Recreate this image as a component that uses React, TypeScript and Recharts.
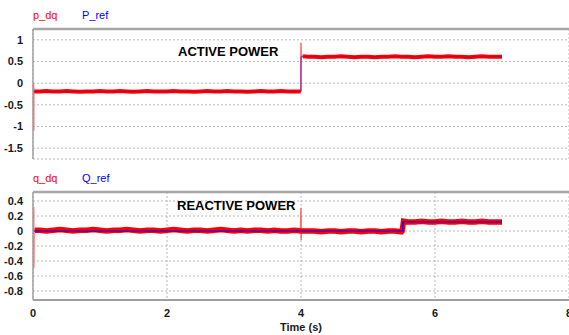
import React from 'react';
import { LineChart, Line, XAxis, YAxis, CartesianGrid, ReferenceLine } from 'recharts';

// time axis ticks (s)
const timeTicks = [0, 2, 4, 6, 8];

// active power: noisy band (null splits the two segments)
const pTicks = [-1.5, -1, -0.5, 0, 0.5, 1];
const pTime = [
  0.02, 0.1, 0.2, 0.3, 0.4, 0.5, 0.6, 0.7, 0.8, 0.9, 1.0,
  1.1, 1.2, 1.3, 1.4, 1.5, 1.6, 1.7, 1.8, 1.9, 2.0,
  2.1, 2.2, 2.3, 2.4, 2.5, 2.6, 2.7, 2.8, 2.9, 3.0,
  3.1, 3.2, 3.3, 3.4, 3.5, 3.6, 3.7, 3.8, 3.9, 3.995,
  4.01,
  4.03, 4.1, 4.2, 4.3, 4.4, 4.5, 4.6, 4.7, 4.8, 4.9, 5.0,
  5.1, 5.2, 5.3, 5.4, 5.5, 5.6, 5.7, 5.8, 5.9, 6.0,
  6.1, 6.2, 6.3, 6.4, 6.5, 6.6, 6.7, 6.8, 6.9, 7.0,
];
const pDq = [
  -0.19, -0.19, -0.18, -0.19, -0.19, -0.18, -0.19, -0.2, -0.19, -0.19, -0.18,
  -0.19, -0.19, -0.18, -0.19, -0.2, -0.19, -0.18, -0.19, -0.19, -0.19,
  -0.18, -0.19, -0.19, -0.2, -0.19, -0.18, -0.19, -0.19, -0.18, -0.19,
  -0.19, -0.2, -0.19, -0.18, -0.19, -0.19, -0.18, -0.19, -0.19, -0.19,
  null,
  0.62, 0.61, 0.61, 0.6, 0.61, 0.61, 0.62, 0.61, 0.6, 0.61, 0.61,
  0.6, 0.61, 0.61, 0.62, 0.61, 0.61, 0.6, 0.61, 0.62, 0.61,
  0.61, 0.62, 0.61, 0.61, 0.6, 0.61, 0.62, 0.61, 0.61, 0.61,
];
// transients at start-up and at the 4 s step
const pSpikeTime = [0.008, 0.01, 0.012, 0.016, 0.025, null, 3.995, 4.0, 4.004, 4.01, 4.03];
const pSpike = [0, -1.1, -0.1, -0.22, -0.19, null, -0.19, 0.94, 0.58, 0.65, 0.62];
const pRefTime = [0, 4, 4, 7];
const pRef = [-0.19, -0.19, 0.61, 0.61];

// reactive power
const qTicks = [-0.8, -0.6, -0.4, -0.2, 0, 0.2, 0.4];
const qTime = [
  0.03, 0.1, 0.2, 0.3, 0.4, 0.5, 0.6, 0.7, 0.8, 0.9, 1.0,
  1.1, 1.2, 1.3, 1.4, 1.5, 1.6, 1.7, 1.8, 1.9, 2.0,
  2.1, 2.2, 2.3, 2.4, 2.5, 2.6, 2.7, 2.8, 2.9, 3.0,
  3.1, 3.2, 3.3, 3.4, 3.5, 3.6, 3.7, 3.8, 3.9, 4.0,
  4.1, 4.2, 4.3, 4.4, 4.5, 4.6, 4.7, 4.8, 4.9, 5.0,
  5.1, 5.2, 5.3, 5.4, 5.5, 5.51,
  5.53, 5.6, 5.7, 5.8, 5.9, 6.0,
  6.1, 6.2, 6.3, 6.4, 6.5, 6.6, 6.7, 6.8, 6.9, 7.0,
];
const qDq = [
  0.01, 0.01, 0.0, 0.01, 0.02, 0.01, 0.0, 0.01, 0.01, 0.02, 0.01,
  0.0, 0.01, 0.01, 0.02, 0.01, 0.0, 0.01, 0.01, 0.0, 0.01,
  0.02, 0.01, 0.0, 0.01, 0.01, 0.0, 0.01, 0.02, 0.01, 0.0,
  0.01, 0.0, 0.01, 0.01, 0.0, 0.01, 0.0, 0.0, 0.01, 0.0,
  0.0, 0.0, -0.01, 0.0, 0.0, -0.01, 0.0, 0.0, -0.01, 0.0,
  0.0, -0.01, 0.0, 0.0, -0.01, 0.0,
  0.13, 0.12, 0.12, 0.13, 0.12, 0.12,
  0.13, 0.12, 0.12, 0.13, 0.12, 0.12, 0.13, 0.12, 0.12, 0.12,
];
const qSpikeTime = [0.008, 0.01, 0.012, 0.015, 0.03, null, 3.99, 4.0, 4.003, 4.006, 4.01, null, 5.51, 5.52, 5.53];
const qSpike = [0, 0.32, -0.49, 0.04, 0.01, null, 0.0, 0.31, -0.12, 0.05, 0.0, null, 0.0, 0.12, 0.13];
const qRefTime = [0, 5.52, 5.52, 7];
const qRef = [0, 0, 0.12, 0.12];

const toRows = (t: (number | null)[], v: (number | null)[]) =>
  t.map((x, i) => ({ t: x, v: v[i] })).filter((r) => r.t !== null || r.v === null);

const pDqData = toRows(pTime, pDq);
const pSpikeData = toRows(pSpikeTime, pSpike);
const pRefData = toRows(pRefTime, pRef);
const qDqData = toRows(qTime, qDq);
const qSpikeData = toRows(qSpikeTime, qSpike);
const qRefData = toRows(qRefTime, qRef);

const FONT = '"Liberation Sans", Arial, sans-serif';
const tickStyle = { fill: '#1a1a1a', fontSize: 11, fontWeight: 700, fontFamily: FONT };

const label = (text: string, color: string, left: number, top: number) => (
  <div
    style={{
      position: 'absolute',
      left,
      top,
      color,
      fontFamily: FONT,
      fontSize: 11,
      lineHeight: '12px',
    }}
  >
    {text}
  </div>
);

const title = (text: string, left: number, top: number) => (
  <div
    style={{
      position: 'absolute',
      left,
      top,
      fontFamily: FONT,
      fontSize: 13,
      fontWeight: 700,
      lineHeight: '16px',
      color: '#000',
      whiteSpace: 'nowrap',
    }}
  >
    {text}
  </div>
);

export default function App() {
  return (
    <div style={{ position: 'absolute', left: 0, top: 0, width: 569, height: 335, background: '#fff', overflow: 'hidden' }}>
      <div style={{ position: 'absolute', left: 0, top: 0 }}>
        <LineChart width={569} height={160} margin={{ top: 29, right: 0, bottom: 1, left: 0 }}>
          <CartesianGrid stroke="#b8b8b8" strokeDasharray="2 2" />
          <XAxis
            type="number"
            dataKey="t"
            domain={[0, 8]}
            ticks={timeTicks}
            tick={false}
            tickLine={false}
            height={0}
            axisLine={{ stroke: '#a0a0a0', strokeWidth: 2 }}
          />
          <YAxis
            type="number"
            domain={[-1.75, 1.25]}
            ticks={pTicks}
            interval={0}
            width={33}
            tickLine={false}
            tickSize={0}
            tickMargin={10}
            tick={tickStyle}
            axisLine={{ stroke: '#a0a0a0', strokeWidth: 1.5 }}
          />
          <ReferenceLine y={1.25} stroke="#a8a8a8" strokeWidth={2.5} />
          <Line data={pSpikeData} dataKey="v" stroke="#ff6a6a" strokeWidth={1.5} dot={false} isAnimationActive={false} />
          <Line data={pRefData} dataKey="v" stroke="#7a6cff" strokeWidth={1} dot={false} isAnimationActive={false} />
          <Line data={pDqData} dataKey="v" stroke="#ff0000" strokeWidth={4} dot={false} isAnimationActive={false} />
          <Line data={pRefData} dataKey="v" stroke="#a0005a" strokeWidth={1} strokeOpacity={0.6} dot={false} isAnimationActive={false} />
        </LineChart>
      </div>
      <div style={{ position: 'absolute', left: 0, top: 160 }}>
        <LineChart width={569} height={175} margin={{ top: 32, right: 0, bottom: 0, left: 0 }}>
          <CartesianGrid stroke="#b8b8b8" strokeDasharray="2 2" />
          <XAxis
            type="number"
            dataKey="t"
            domain={[0, 8]}
            ticks={timeTicks}
            interval={0}
            height={35}
            tickLine={false}
            tickSize={0}
            tickMargin={9}
            tick={tickStyle}
            axisLine={{ stroke: '#a0a0a0', strokeWidth: 2 }}
            label={{ value: 'Time (s)', position: 'insideBottom', offset: 4, style: { ...tickStyle, fontSize: 11 } }}
          />
          <YAxis
            type="number"
            domain={[-0.92, 0.52]}
            ticks={qTicks}
            interval={0}
            width={33}
            tickLine={false}
            tickSize={0}
            tickMargin={10}
            tick={tickStyle}
            axisLine={{ stroke: '#a0a0a0', strokeWidth: 1.5 }}
          />
          <ReferenceLine y={0.52} stroke="#a8a8a8" strokeWidth={2.5} />
          <Line data={qSpikeData} dataKey="v" stroke="#ff6a6a" strokeWidth={1.5} dot={false} isAnimationActive={false} />
          <Line data={qDqData} dataKey="v" stroke="#ff0000" strokeWidth={5.5} dot={false} isAnimationActive={false} />
          <Line data={qRefData} dataKey="v" stroke="#0000ff" strokeWidth={1.2} dot={false} isAnimationActive={false} />
        </LineChart>
      </div>
      {label('p_dq', '#ff0000', 33, 9)}
      {label('P_ref', '#0000ff', 82, 9)}
      {label('q_dq', '#ff0000', 33, 172)}
      {label('Q_ref', '#0000ff', 82, 172)}
      {title('ACTIVE POWER', 178, 44)}
      {title('REACTIVE POWER', 177, 198)}
    </div>
  );
}
